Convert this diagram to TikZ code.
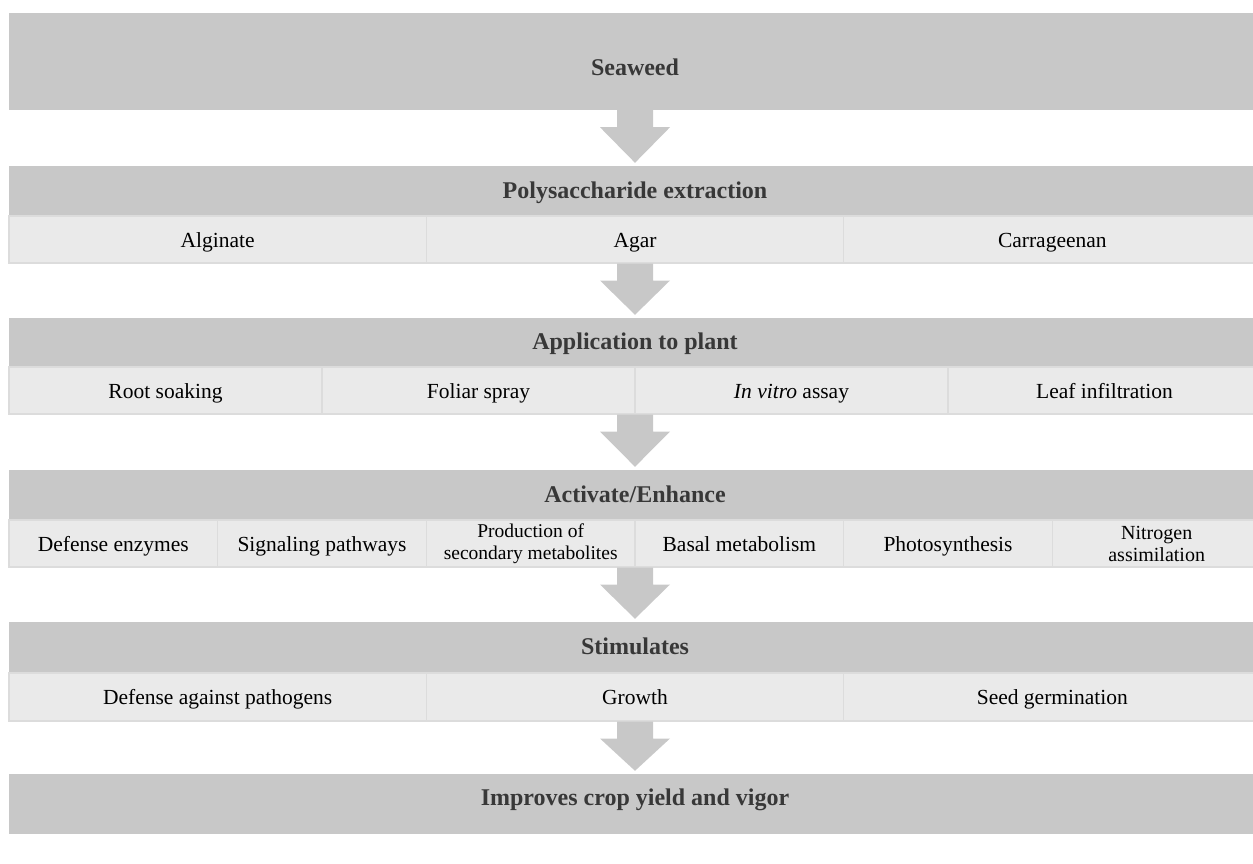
\documentclass[tikz,border=0pt]{standalone}
\usepackage{fontspec}
\setmainfont{Liberation Serif}
\usetikzlibrary{calc}
\definecolor{hdr}{HTML}{C8C8C8}
\definecolor{subfill}{HTML}{EAEAEA}
\definecolor{subline}{HTML}{DCDCDC}
\definecolor{hdrtext}{HTML}{383838}
\newcommand\blockarrow[2]{%
  \fill[hdr] ($(#1.south)+(-18,0)$) -- ($(#1.south)+(-18,17)$) -- ($(#1.south)+(-35,17)$)
    -- ($(#2.north)+(0,-3)$) -- ($(#1.south)+(35,17)$) -- ($(#1.south)+(18,17)$)
    -- ($(#1.south)+(18,0)$) -- cycle;}
\begin{document}
\begin{tikzpicture}[x=1pt,y=-1pt,
  hdrbox/.style={fill=hdr, draw=none, inner sep=0pt, minimum width=1252pt,
    font=\fontsize{24}{26}\selectfont\bfseries, text=hdrtext, text height=18pt, text depth=3.5pt},
  rowbox/.style={fill=subfill, draw=subline, line width=1pt, inner sep=0pt, minimum width=1252pt},
  cellbox/.style={fill=subfill, draw=subline, line width=1.2pt, inner sep=0pt,
    font=\fontsize{21.5}{23}\selectfont, text=black, text height=17pt, text depth=2pt},
  smallcell/.style={fill=subfill, draw=subline, line width=1.2pt, inner sep=0pt,
    font=\fontsize{19.5}{22}\selectfont, text=black, align=center},
  lbl/.style={inner sep=0pt, font=\fontsize{24}{26}\selectfont\bfseries, text=hdrtext,
    text height=18pt, text depth=3.5pt}]
\useasboundingbox (0,0) rectangle (1253,863);

% Seaweed
\node[hdrbox, minimum height=97pt] (h1) at (635,61.5) {};
\node[lbl] (t1) at (635,68) {Seaweed};

% Polysaccharide extraction
\node[hdrbox, minimum height=50pt] (h2) at (635,191) {Polysaccharide extraction};
\node[rowbox, minimum height=47pt] (s2) at (635,239.5) {};
\foreach \i/\t [count=\k from 0] in {a/Alginate,b/Agar,c/Carrageenan}
  \node[cellbox, minimum width=417.33pt, minimum height=47pt] (s2\i) at ({9+417.33*(\k+0.5)},239.5) {\t};

% Application to plant
\node[hdrbox, minimum height=49pt] (h3) at (635,342.5) {Application to plant};
\node[rowbox, minimum height=47pt] (s3) at (635,390.5) {};
\foreach \i/\t [count=\k from 0] in {a/Root soaking,b/Foliar spray,c/{\itshape In vitro} assay,d/Leaf infiltration}
  \node[cellbox, minimum width=313pt, minimum height=47pt] (s3\i) at ({9+313*(\k+0.5)},390.5) {\t};

% Activate/Enhance
\node[hdrbox, minimum height=50pt] (h4) at (635,495) {Activate/Enhance};
\node[rowbox, minimum height=47pt] (s4) at (635,543.5) {};
\node[cellbox, minimum width=208.67pt, minimum height=47pt] (s4a) at ({9+208.67*0.5},543.5) {Defense enzymes};
\node[cellbox, minimum width=208.67pt, minimum height=47pt] (s4b) at ({9+208.67*1.5},543.5) {Signaling pathways};
\node[smallcell, minimum width=208.67pt, minimum height=47pt] (s4c) at ({9+208.67*2.5},543.5) {Production of\\secondary metabolites};
\node[cellbox, minimum width=208.67pt, minimum height=47pt] (s4d) at ({9+208.67*3.5},543.5) {Basal metabolism};
\node[cellbox, minimum width=208.67pt, minimum height=47pt] (s4e) at ({9+208.67*4.5},543.5) {Photosynthesis};
\node[smallcell, font=\fontsize{20}{22}\selectfont, minimum width=208.67pt, minimum height=47pt] (s4f) at ({9+208.67*5.5},543.5) {Nitrogen\\assimilation};

% Stimulates
\node[hdrbox, minimum height=51pt] (h5) at (635,647.5) {Stimulates};
\node[rowbox, minimum height=48pt] (s5) at (635,697) {};
\foreach \i/\t [count=\k from 0] in {a/Defense against pathogens,b/Growth,c/Seed germination}
  \node[cellbox, minimum width=417.33pt, minimum height=48pt] (s5\i) at ({9+417.33*(\k+0.5)},697) {\t};

% Improves crop yield
\node[hdrbox, minimum height=60pt] (h6) at (635,804) {};
\node[lbl] (t6) at (635,798) {Improves crop yield and vigor};

% arrows
\blockarrow{h1}{h2}
\blockarrow{s2}{h3}
\blockarrow{s3}{h4}
\blockarrow{s4}{h5}
\blockarrow{s5}{h6}
\end{tikzpicture}
\end{document}
